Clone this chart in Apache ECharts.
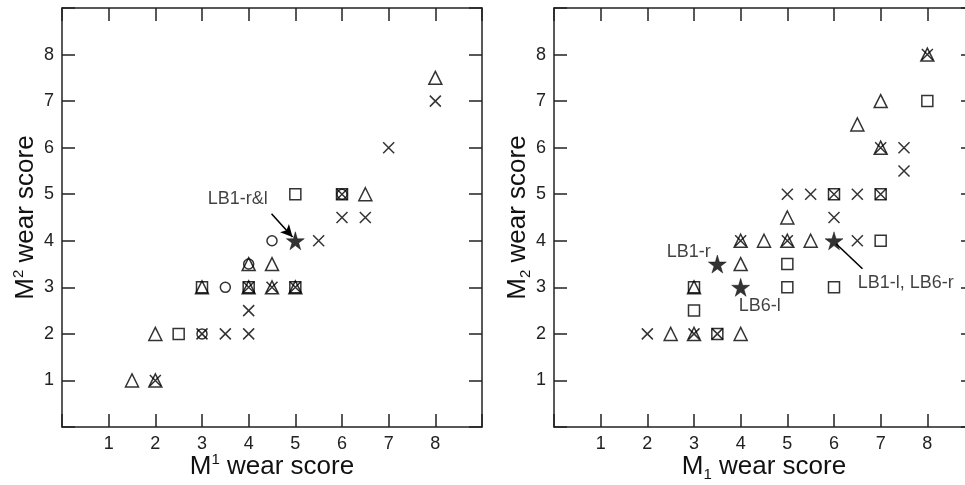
<!DOCTYPE html>
<html>
<head>
<meta charset="utf-8">
<script src="https://cdn.jsdelivr.net/npm/echarts@6/dist/echarts.min.js"></script>
<style>
  html, body { margin: 0; padding: 0; background: #fff; }
  #chart { width: 965px; height: 485px; }
</style>
</head>
<body>
<div id="chart"></div>
<script>
// 左图: M1 vs M2 (upper)
var leftTriangles = [[1.5,1],[2,1],[2,2],[3,3],[4,3],[4,3.5],[4.5,3],[4.5,3.5],[5,3],[6.5,5],[8,7.5]];
var leftCrosses = [[2,1],[3,2],[3.5,2],[4,2],[4,2.5],[4,3],[4.5,3],[5,3],[5.5,4],[6,4.5],[6.5,4.5],[6,5],[7,6],[8,7]];
var leftSquares = [[2.5,2],[3,3],[4,3],[5,3],[5,5],[6,5]];
var leftCircles = [[3,2],[3.5,3],[4,3.5],[4.5,4],[6,5]];
var leftStars = [[5,4]];

// 右图: M1 vs M2 (lower)
var rightTriangles = [[2.5,2],[3,2],[4,2],[3,3],[4,3.5],[4,4],[4.5,4],[5,4],[5.5,4],[5,4.5],[6.5,6.5],[7,6],[7,7],[8,8]];
var rightCrosses = [[2,2],[3,2],[3.5,2],[4,4],[5,4],[6.5,4],[6,4.5],[5,5],[5.5,5],[6,5],[6.5,5],[7,5],[7.5,5.5],[7,6],[7.5,6],[8,8]];
var rightSquares = [[3,2.5],[3,3],[3.5,2],[5,3],[5,3.5],[6,3],[7,4],[6,5],[7,5],[8,7]];
var rightStars = [[3.5,3.5],[4,3],[6,4]];

// annotations (data coords)
var leftNotes = [{ value: [4.41, 4.9], name: 'LB1-r&l', align: 'right' }];
var rightNotes = [
  { value: [3.36, 3.76], name: 'LB1-r', align: 'right' },
  { value: [3.96, 2.6], name: 'LB6-l', align: 'left' },
  { value: [6.51, 3.1], name: 'LB1-l, LB6-r', align: 'left' }
];
var leftArrow = [[4.49, 4.58], [4.94, 4.08]];
var rightLeader = [[6.05, 3.93], [6.61, 3.40]];

var tickLabels = ['1','2','3','4','5','6','7','8'];

var INK = '#000';
var crossPath = 'path://M0,0L10,10M0,10L10,0';
var starPath = 'path://M50,0L61,35L98,35L68,57L79,91L50,70L21,91L32,57L2,35L39,35Z';

function axisCommon(pos, gridIndex, showLabel, name, nameGap) {
  return {
    type: 'value', gridIndex: gridIndex, position: pos,
    min: 0, max: 9, interval: 1,
    splitLine: { show: false },
    axisLine: { show: true, onZero: false, lineStyle: { color: '#222', width: 1.5 } },
    axisTick: { show: true, inside: true, length: 13, lineStyle: { color: '#222', width: 1.5 } },
    axisLabel: {
      show: showLabel, color: '#222', fontSize: 18, fontFamily: 'Liberation Sans, Arial',
      margin: 8,
      formatter: function (v) { return tickLabels.indexOf(String(v)) >= 0 ? String(v) : ''; }
    },
    name: name || '',
    nameLocation: 'middle',
    nameGap: nameGap || 0,
    nameMoveOverlap: false,
    nameRotate: (pos === 'left') ? 90 : 0,
    nameTextStyle: {
      color: '#111', fontSize: 26, fontFamily: 'Liberation Sans, Arial',
      rich: {
        a: { fontSize: 26, color: '#111', fontFamily: 'Liberation Sans, Arial', lineHeight: 30 },
        sup: { fontSize: 15, color: '#111', fontFamily: 'Liberation Sans, Arial', verticalAlign: 'top', lineHeight: 30, padding: [0, 0, 10, 0] },
        sub: { fontSize: 15, color: '#111', fontFamily: 'Liberation Sans, Arial', verticalAlign: 'bottom', lineHeight: 30, padding: [6, 0, 0, 0] }
      }
    }
  };
}

function marker(name, data, symbol, size, xi, filled) {
  return {
    name: name, type: 'scatter', xAxisIndex: xi, yAxisIndex: xi,
    data: data, symbol: symbol, symbolSize: size,
    silent: true,
    itemStyle: filled
      ? { color: INK, borderColor: INK, borderWidth: 0.5 }
      : { color: 'none', borderColor: INK, borderWidth: 1.5 }
  };
}

function notes(data, xi) {
  return {
    type: 'scatter', xAxisIndex: xi, yAxisIndex: xi, silent: true,
    symbolSize: 1, itemStyle: { color: 'rgba(0,0,0,0)' },
    data: data.map(function (d) {
      return {
        value: d.value, name: d.name,
        label: {
          show: true, position: 'inside', formatter: d.name, align: d.align,
          verticalAlign: 'middle', color: '#111', fontSize: 18, fontFamily: 'Liberation Sans, Arial'
        }
      };
    })
  };
}

function leader(pts, xi, arrow) {
  return {
    type: 'line', xAxisIndex: xi, yAxisIndex: xi, data: [], silent: true,
    markLine: {
      silent: true, animation: false,
      symbol: ['none', arrow ? 'arrow' : 'none'], symbolSize: [9, 12],
      label: { show: false },
      lineStyle: { color: INK, width: 1.6, type: 'solid' },
      data: [[{ coord: pts[0] }, { coord: pts[1] }]]
    }
  };
}

var myChart = echarts.init(document.getElementById('chart'));
var option = {
  animation: false,
  backgroundColor: '#fff',
  grid: [
    { left: 62, top: 8, width: 420, height: 419, outerBoundsMode: 'none', containLabel: false },
    { left: 554, top: 8, width: 420, height: 419, outerBoundsMode: 'none', containLabel: false }
  ],
  xAxis: [
    axisCommon('bottom', 0, true, '{a|M}{sup|1}{a| wear score}', 25),
    axisCommon('bottom', 1, true, '{a|M}{sub|1}{a| wear score}', 25),
    axisCommon('top', 0, false),
    axisCommon('top', 1, false)
  ],
  yAxis: [
    axisCommon('left', 0, true, '{a|M}{sup|2}{a| wear score}', 21),
    axisCommon('left', 1, true, '{a|M}{sub|2}{a| wear score}', 21),
    axisCommon('right', 0, false),
    axisCommon('right', 1, false)
  ],
  series: [
    marker('tri', leftTriangles, 'triangle', 13, 0, false),
    marker('cross', leftCrosses, crossPath, 11, 0, false),
    marker('square', leftSquares, 'rect', 11, 0, false),
    marker('circle', leftCircles, 'circle', 10, 0, false),
    marker('star', leftStars, starPath, 18, 0, true),
    marker('tri', rightTriangles, 'triangle', 13, 1, false),
    marker('cross', rightCrosses, crossPath, 11, 1, false),
    marker('square', rightSquares, 'rect', 11, 1, false),
    marker('star', rightStars, starPath, 18, 1, true),
    notes(leftNotes, 0),
    notes(rightNotes, 1),
    leader(leftArrow, 0, true),
    leader(rightLeader, 1, false)
  ]
};
myChart.setOption(option);
</script>
</body>
</html>
